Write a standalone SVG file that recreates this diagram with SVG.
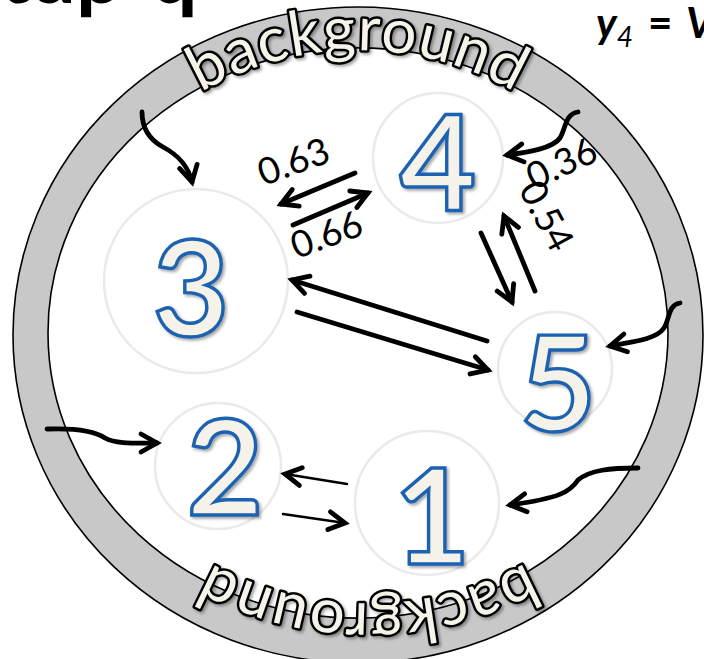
<svg xmlns="http://www.w3.org/2000/svg" width="704" height="659" viewBox="0 0 704 659">
<style>
.ring { fill:#C8C8C8; stroke:#000; stroke-width:1.6; fill-rule:evenodd; }
.bgtext { font-family:Lato, "Open Sans", sans-serif; font-size:62px; fill:#F6F4EA; stroke:#000; stroke-width:5; paint-order:stroke; stroke-linejoin:round; letter-spacing:1px; }
.node circle { fill:#fff; stroke:#EAEAEA; stroke-width:2.5; }
.digit { font-family:Lato, "Open Sans", sans-serif; font-weight:700; font-size:132px; fill:#F4F2E9; stroke:#1C62B0; stroke-width:3.4; text-anchor:middle; }
.conn path { fill:none; stroke:#000; stroke-width:4.8; stroke-linecap:round; }
.conn path.thin { stroke-width:2.6; }
.lbl { font-family:Lato, "Open Sans", sans-serif; font-size:37px; fill:#000; text-anchor:middle; dominant-baseline:central; }
.title { font-family:Lato, "Open Sans", sans-serif; font-weight:700; fill:#000; }
</style>
<defs>
<marker id="ah" viewBox="-20 -12 24 24" markerWidth="24" markerHeight="24" markerUnits="userSpaceOnUse" refX="0" refY="0" orient="auto" overflow="visible">
<path d="M-16,-9 L0,0 L-16,9" fill="none" stroke="#000" stroke-width="4.8" stroke-linecap="round" stroke-linejoin="miter"/>
</marker>
<filter id="sh" x="-20%" y="-20%" width="140%" height="140%">
<feDropShadow dx="2" dy="2" stdDeviation="1.5" flood-color="#000" flood-opacity="0.35"/>
</filter>
<path id="topArc" d="M76,238 A300,285 0 0 1 640,238"/>
<path id="botArc" d="M650,426 A302,276 0 0 1 86,426"/>
</defs>

<text class="title" x="-89" y="3" font-size="82">Setup<tspan x="151">q</tspan></text>
<text class="title" x="596" y="38" font-size="42" font-style="italic">y<tspan font-size="28" font-weight="400" dy="9">4</tspan><tspan x="648" dy="-9" font-style="normal">=</tspan><tspan x="686">V</tspan></text>

<g id="ring">
<path class="ring" d="M13,335 A345,328 0 1 1 703,335 A345,328 0 1 1 13,335 Z M48,333 A310,285 0 1 0 668,333 A310,285 0 1 0 48,333 Z"/>
<text class="bgtext" filter="url(#sh)"><textPath href="#topArc" startOffset="50%" text-anchor="middle">background</textPath></text>
<text class="bgtext" filter="url(#sh)"><textPath href="#botArc" startOffset="50%" text-anchor="middle">background</textPath></text>
</g>

<g id="node4" class="node"><circle cx="438" cy="158" r="65"/><text class="digit" x="438" y="210" filter="url(#sh)">4</text></g>
<g id="node3" class="node"><circle cx="196" cy="281" r="92"/><text class="digit" x="191" y="336" filter="url(#sh)">3</text></g>
<g id="node5" class="node"><circle cx="555" cy="369" r="57"/><text class="digit" x="558" y="431" filter="url(#sh)">5</text></g>
<g id="node2" class="node"><circle cx="218" cy="466" r="63"/><text class="digit" x="225" y="515" filter="url(#sh)">2</text></g>
<g id="node1" class="node"><circle cx="427" cy="503" r="72"/><text class="digit" x="432" y="564" filter="url(#sh)">1</text></g>

<g id="connectors" class="conn">
<path d="M355,173 L281,204" marker-end="url(#ah)"/>
<path d="M293,225 L368,193" marker-end="url(#ah)"/>
<path d="M487,341 L292,280" marker-end="url(#ah)"/>
<path d="M297,312 L488,370" marker-end="url(#ah)"/>
<path d="M481,233 L512,302" marker-end="url(#ah)"/>
<path d="M535,291 L504,216" marker-end="url(#ah)"/>
<path d="M578,112 C565,114 566,128 560,138 C553,148 530,152 507,155" marker-end="url(#ah)"/>
<path d="M142,112 C142,128 150,140 163,147 C178,155 188,165 192,182" marker-end="url(#ah)"/>
<path d="M680,303 C668,305 670,318 664,328 C656,340 630,342 610,346" marker-end="url(#ah)"/>
<path d="M638,468 C610,468 590,470 578,480 C570,492 560,498 510,505" marker-end="url(#ah)"/>
<path d="M47,429 C75,428 95,431 105,438 C115,444 135,443 157,443" marker-end="url(#ah)"/>
<path class="thin" d="M347,484 L285,474" marker-end="url(#ah)"/>
<path class="thin" d="M283,514 L345,523" marker-end="url(#ah)"/>
<text class="lbl" transform="translate(293,160) rotate(-20)">0.63</text>
<text class="lbl" transform="translate(326,233) rotate(-20)">0.66</text>
<text class="lbl" transform="translate(561,162) rotate(-25)">0.36</text>
<text class="lbl" transform="translate(548,215) rotate(62)">0.54</text>
</g>
</svg>
